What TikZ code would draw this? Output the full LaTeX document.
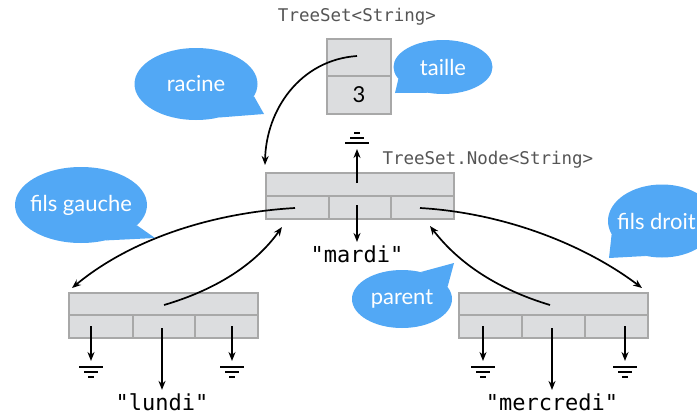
\documentclass[tikz,border=0pt]{standalone}
\usepackage{fontspec}
\setmainfont{Lato}
\setmonofont{DejaVu Sans Mono}
\usetikzlibrary{shapes.geometric,arrows.meta}
\definecolor{bub}{HTML}{52A8F5}
\definecolor{cellfill}{HTML}{DCDDDF}
\definecolor{celldraw}{HTML}{A8A8A8}
\definecolor{typegray}{HTML}{555555}
\tikzset{
  bubble/.style={ellipse, fill=bub, draw=none, inner sep=0pt},
  bubtext/.style={text=white, inner sep=0pt, font=\fontsize{22}{24}\selectfont},
  cell/.style={rectangle, fill=cellfill, draw=celldraw, line width=2pt, inner sep=0pt, anchor=north west},
  ptr/.style={line width=1.7pt, -{Stealth[length=9pt,width=7pt]}},
  typelbl/.style={font=\ttfamily\fontsize{17.5}{19}\selectfont, text=typegray},
  strlbl/.style={font=\ttfamily\fontsize{22}{24}\selectfont},
  gnd/.pic={
    \draw[line width=1.5pt] (-12,0) -- (12,0) (-7,5) -- (7,5) (-3,10) -- (3,10);
  },
  gndup/.pic={
    \draw[line width=1.5pt] (-12,0) -- (12,0) (-7,-5) -- (7,-5) (-3,-10) -- (3,-10);
  }
}
\begin{document}
\begin{tikzpicture}[x=1pt,y=-1pt]
\clip (0,0) rectangle (697,415);
\fill[white] (0,0) rectangle (697,415);

% ---------- TreeSet ----------
\node[typelbl] (tslbl) at (357,17) {TreeSet<String>};
\node[cell, minimum width=64, minimum height=37] (tstop) at (326,38) {};
\node[cell, minimum width=64, minimum height=38, font=\fontsize{22}{24}\selectfont] (tsbot) at (326,75) {3};

% ---------- main node ----------
\node[typelbl, anchor=west] (nlbl) at (379,160) {TreeSet.Node<String>};
\node[cell, minimum width=188, minimum height=23] (mtop) at (265,172) {};
\node[cell, minimum width=63, minimum height=23] (ml) at (265,195) {};
\node[cell, minimum width=62, minimum height=23] (mm) at (328,195) {};
\node[cell, minimum width=63, minimum height=23] (mr) at (390,195) {};

% ---------- left child ----------
\node[cell, minimum width=189, minimum height=22] (ltop) at (68,292) {};
\node[cell, minimum width=64, minimum height=23] (ll) at (68,314) {};
\node[cell, minimum width=62, minimum height=23] (lm) at (132,314) {};
\node[cell, minimum width=63, minimum height=23] (lr) at (194,314) {};

% ---------- right child ----------
\node[cell, minimum width=189, minimum height=22] (rtop) at (458,292) {};
\node[cell, minimum width=63, minimum height=23] (rl) at (458,314) {};
\node[cell, minimum width=63, minimum height=23] (rm) at (521,314) {};
\node[cell, minimum width=63, minimum height=23] (rr) at (584,314) {};

% ---------- labels ----------
\node[strlbl] (mardi) at (357,254) {"mardi"};
\node[strlbl] (lundi) at (162,402) {"lundi"};
\node[strlbl] (mercredi) at (552,402) {"mercredi"};

% ---------- ground symbols ----------
\coordinate (gup) at (357,143);
\pic at (gup) {gndup};
\coordinate (g1) at (91,367);
\coordinate (g2) at (232,367);
\coordinate (g3) at (483,367);
\coordinate (g4) at (625,367);
\pic at (g1) {gnd};
\pic at (g2) {gnd};
\pic at (g3) {gnd};
\pic at (g4) {gnd};

% ---------- straight pointers ----------
\draw[ptr] (357,183) -- ([yshift=-6pt]gup);
\draw[ptr] (357,205) -- (mardi.north);
\draw[ptr] (91,326) -- ([yshift=6pt]g1);
\draw[ptr] (232,326) -- ([yshift=6pt]g2);
\draw[ptr] (162,328) -- (lundi.north);
\draw[ptr] (483,326) -- ([yshift=6pt]g3);
\draw[ptr] (625,326) -- ([yshift=6pt]g4);
\draw[ptr] (552,328) -- (mercredi.north);

% ---------- curved pointers ----------
\coordinate (rootsrc) at (357,56);
\coordinate (roottip) at (265,165);
\draw[ptr] (rootsrc) .. controls (300,60) and (266,110) .. (roottip);
\coordinate (lsrc) at (295,208);
\coordinate (ltip) at (72,288);
\draw[ptr] (lsrc) .. controls (210,213) and (130,240) .. (ltip);
\coordinate (lpsrc) at (164,305);
\coordinate (lptip) at (282,227);
\draw[ptr] (lpsrc) .. controls (215,290) and (255,265) .. (lptip);
\coordinate (rsrc) at (420,208);
\coordinate (rtip) at (642,288);
\draw[ptr] (rsrc) .. controls (505,213) and (585,245) .. (rtip);
\coordinate (rpsrc) at (550,305);
\coordinate (rptip) at (430,226);
\draw[ptr] (rpsrc) .. controls (500,290) and (460,265) .. (rptip);

% ---------- bubbles ----------
\node[bubble, minimum width=123, minimum height=72] (racine) at (196,84) {};
\fill[bub] (racine.-12) -- (264,114) -- (racine.-55) -- cycle;
\node[bubtext] (racinet) at (196,84) {racine};
\node[bubble, minimum width=99, minimum height=54] (taille) at (443,67) {};
\fill[bub] (taille.195) -- (395,93) -- (taille.240) -- cycle;
\node[bubtext] (taillet) at (443,67) {taille};
\node[bubble, minimum width=132, minimum height=76] (fg) at (81,205) {};
\fill[bub] (fg.-20) -- (155,238) -- (fg.-55) -- cycle;
\node[bubtext] (fgt) at (81,205) {fils gauche};
\node[bubble, minimum width=108, minimum height=73] (fd) at (662,221) {};
\fill[bub] (fd.195) -- (609,258) -- (fd.245) -- cycle;
\node[bubtext, anchor=west] (fdt) at (617,221) {fils droit};
\node[bubble, minimum width=100, minimum height=58] (parent) at (402,299) {};
\fill[bub] (parent.15) -- (454,263) -- (parent.55) -- cycle;
\node[bubtext] (parentt) at (402,299) {parent};
\end{tikzpicture}
\end{document}
